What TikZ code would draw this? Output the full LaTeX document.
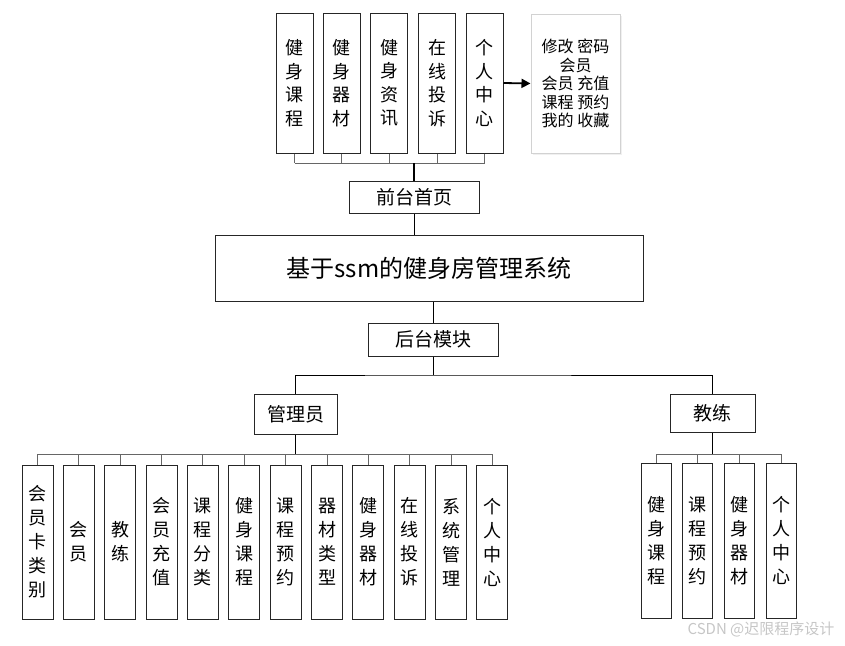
\documentclass[tikz,border=0pt]{standalone}
\usepackage{fontspec}
\setmainfont{Noto Sans CJK SC}
\usetikzlibrary{arrows.meta,shadows}

\begin{document}
\begin{tikzpicture}[
    x=1pt, y=-1pt,
    box/.style={draw=black!85, line width=1pt, inner sep=0pt},
    vbox/.style={box, minimum width=31pt, minimum height=154pt, align=center,
                 font=\fontsize{18}{24}\selectfont},
    tbox/.style={box, minimum width=37pt, minimum height=140pt, align=center,
                 font=\fontsize{18}{23.5}\selectfont},
    hbox/.style={box, font=\fontsize{19}{22}\selectfont},
    bus/.style={gray!80!black, line width=1pt},
    trunk/.style={black, line width=1.3pt},
]
\useasboundingbox (0,0) rectangle (845,645);

% Front end: five pages on top
\foreach \i/\t/\x in {1/{健\\身\\课\\程}/294.5, 2/{健\\身\\器\\材}/341.5,
                      3/{健\\身\\资\\讯}/389, 4/{在\\线\\投\\诉}/437,
                      5/{个\\人\\中\\心}/484.5}{
  \node[tbox] (f\i) at (\x,83) {\t};
}
\node[box, draw=gray!35, fill=white, minimum width=89pt, minimum height=139pt, align=center,
      drop shadow={opacity=0.12, shadow xshift=1.5pt, shadow yshift=-1.5pt},
      font=\fontsize{16}{18.5}\selectfont] (center) at (575.5,83.5)
      {修改 密码\\会员\\会员 充值\\课程 预约\\我的 收藏};
\draw[-{Triangle[length=9pt,width=9pt]}, line width=1.8pt] (f5.east) -- (center.west);

\node[hbox, minimum width=130pt, minimum height=32pt] (front) at (414,197) {前台首页};
\coordinate (topbus) at (414,163);
\foreach \i in {1,...,5}{
  \draw[bus] (f\i.south) -- (f\i.south |- topbus);
}
\draw[bus] (f1.south |- topbus) -- (f5.south |- topbus);
\draw[trunk] (front.north) -- (front.north |- topbus);

% System title
\node[box, minimum width=428pt, minimum height=66pt,
      font=\fontsize{24}{28}\selectfont] (sys) at (429,268) {基于ssm的健身房管理系统};
\draw[trunk, line width=1pt] (front.south) -- (front.south |- sys.north);

% Back end
\node[hbox, minimum width=130pt, minimum height=33pt] (back) at (433,339.5) {后台模块};
\draw[trunk, line width=1pt] (back.north |- sys.south) -- (back.north);

\node[hbox, minimum width=83pt, minimum height=40pt] (admin) at (295.5,414) {管理员};
\node[hbox, minimum width=85pt, minimum height=38pt] (coach) at (712.5,413) {教练};
\coordinate (midbus) at (433,375);
\draw[trunk, line width=1pt] (back.south) -- (midbus);
\draw[line width=1pt] (admin.north) |- (midbus) -| (coach.north);

% Admin modules
\foreach \i/\t in {1/{会\\员\\卡\\类\\别}, 2/{会\\员}, 3/{教\\练}, 4/{会\\员\\充\\值},
                   5/{课\\程\\分\\类}, 6/{健\\身\\课\\程}, 7/{课\\程\\预\\约},
                   8/{器\\材\\类\\型}, 9/{健\\身\\器\\材}, 10/{在\\线\\投\\诉},
                   11/{系\\统\\管\\理}, 12/{个\\人\\中\\心}}{
  \node[vbox] (a\i) at ({37.5+41.36*(\i-1)},542) {\t};
}
\coordinate (abus) at (296,454);
\foreach \i in {1,...,12}{
  \draw[bus] (a\i.north) -- (a\i.north |- abus);
}
\draw[bus] (a1.north |- abus) -- (a12.north |- abus);
\draw[trunk] (admin.south) -- (admin.south |- abus);

% Coach modules
\foreach \i/\t in {1/{健\\身\\课\\程}, 2/{课\\程\\预\\约}, 3/{健\\身\\器\\材}, 4/{个\\人\\中\\心}}{
  \node[vbox, minimum width=30pt, minimum height=155pt] (c\i) at ({656+41.7*(\i-1)},540.5) {\t};
}
\coordinate (cbus) at (713,454);
\foreach \i in {1,...,4}{
  \draw[bus] (c\i.north) -- (c\i.north |- cbus);
}
\draw[bus] (c1.north |- cbus) -- (c4.north |- cbus);
\draw[trunk] (coach.south) -- (coach.south |- cbus);

\node[text=gray!45, font=\fontsize{15}{17}\selectfont] (mark) at (761,629) {CSDN @迟限程序设计};
\end{tikzpicture}
\end{document}
